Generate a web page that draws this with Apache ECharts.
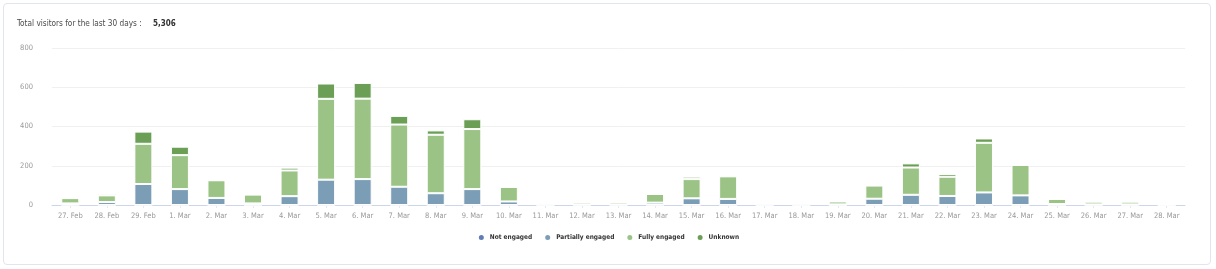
<!DOCTYPE html>
<html>
<head>
<meta charset="utf-8">
<script src="https://cdn.jsdelivr.net/npm/echarts@6/dist/echarts.min.js"></script>
<style>
html,body{margin:0;padding:0;background:#fff;}
#card{position:absolute;left:3px;top:3px;width:1208px;height:262px;border:1px solid #e2e5ee;border-radius:4px;box-sizing:border-box;}
#chart{position:absolute;left:0;top:0;width:1216px;height:269px;}
</style>
</head>
<body>
<div id="card"></div>
<div id="chart"></div>
<script>
const titleText = 'Total visitors for the last 30 days :';
const totalVisitors = '5,306';
const categories = ['27. Feb','28. Feb','29. Feb','1. Mar','2. Mar','3. Mar','4. Mar','5. Mar','6. Mar','7. Mar','8. Mar','9. Mar','10. Mar','11. Mar','12. Mar','13. Mar','14. Mar','15. Mar','16. Mar','17. Mar','18. Mar','19. Mar','20. Mar','21. Mar','22. Mar','23. Mar','24. Mar','25. Mar','26. Mar','27. Mar','28. Mar'];
const notEngaged       = [0,0,0,0,0,0,0,0,0,0,0,0,0,0,0,0,0,0,0,0,0,0,0,0,0,0,0,0,0,0,0];
const partiallyEngaged = [8,15,107,81,36,8,45,129,132,93,60,81,18,2,3,3,12,34,31,2,2,3,32,52,46,64,49,5,3,3,1];
const fullyEngaged     = [27,34,205,173,90,45,131,412,410,317,298,306,74,6,10,11,44,98,115,6,6,15,67,139,98,253,155,26,14,14,5];
const unknown          = [2,8,62,43,3,3,14,78,80,44,22,50,3,0,0,0,0,12,5,0,0,0,4,21,14,22,6,0,0,0,0];
const yTicks = {min: 0, max: 800, interval: 200};

const seriesDefs = [
  {name: 'Not engaged', data: notEngaged, color: '#5f7db6'},
  {name: 'Partially engaged', data: partiallyEngaged, color: '#7b9db6'},
  {name: 'Fully engaged', data: fullyEngaged, color: '#9bc386'},
  {name: 'Unknown', data: unknown, color: '#6a9f55'}
];

const chart = echarts.init(document.getElementById('chart'), null, {renderer: 'canvas'});
const fontFam = '"DejaVu Sans Condensed", "Liberation Sans Narrow", "Noto Sans", sans-serif';
chart.setOption({
  animation: false,
  textStyle: {fontFamily: fontFam},
  title: {
    text: '{a|' + titleText + '}  {b|' + totalVisitors + '}',
    left: 12, top: 10,
    textStyle: {
      rich: {
        a: {fontFamily: fontFam, fontSize: 8.2, color: '#4a4a4a', fontWeight: 'normal'},
        b: {fontFamily: fontFam, fontSize: 8, color: '#333', fontWeight: 'bold'}
      }
    }
  },
  legend: {
    top: 228, left: 'center',
    icon: 'circle', itemWidth: 7, itemHeight: 7, itemGap: 11,
    textStyle: {fontFamily: fontFam, fontSize: 6.5, color: '#333', fontWeight: 'bold'},
    data: seriesDefs.map(s => s.name)
  },
  grid: {left: 52, right: 31, top: 48, bottom: 64},
  xAxis: {
    type: 'category',
    data: categories,
    axisLine: {lineStyle: {color: '#ccd6eb'}},
    axisTick: {show: true, alignWithLabel: true, length: 3, lineStyle: {color: '#e3e8f2'}},
    axisLabel: {color: '#999', fontSize: 7.5, margin: 7, interval: 0, fontFamily: fontFam}
  },
  yAxis: {
    type: 'value',
    min: yTicks.min, max: yTicks.max, interval: yTicks.interval,
    axisLine: {show: false}, axisTick: {show: false},
    splitLine: {lineStyle: {color: '#f0f0f0'}},
    axisLabel: {color: '#999', fontSize: 7.5, margin: 19, fontFamily: fontFam}
  },
  series: seriesDefs.map(s => ({
    name: s.name, type: 'bar', stack: 'total', data: s.data,
    barWidth: 18,
    itemStyle: {color: s.color, borderColor: '#fff', borderWidth: 1}
  }))
});
</script>
</body>
</html>
